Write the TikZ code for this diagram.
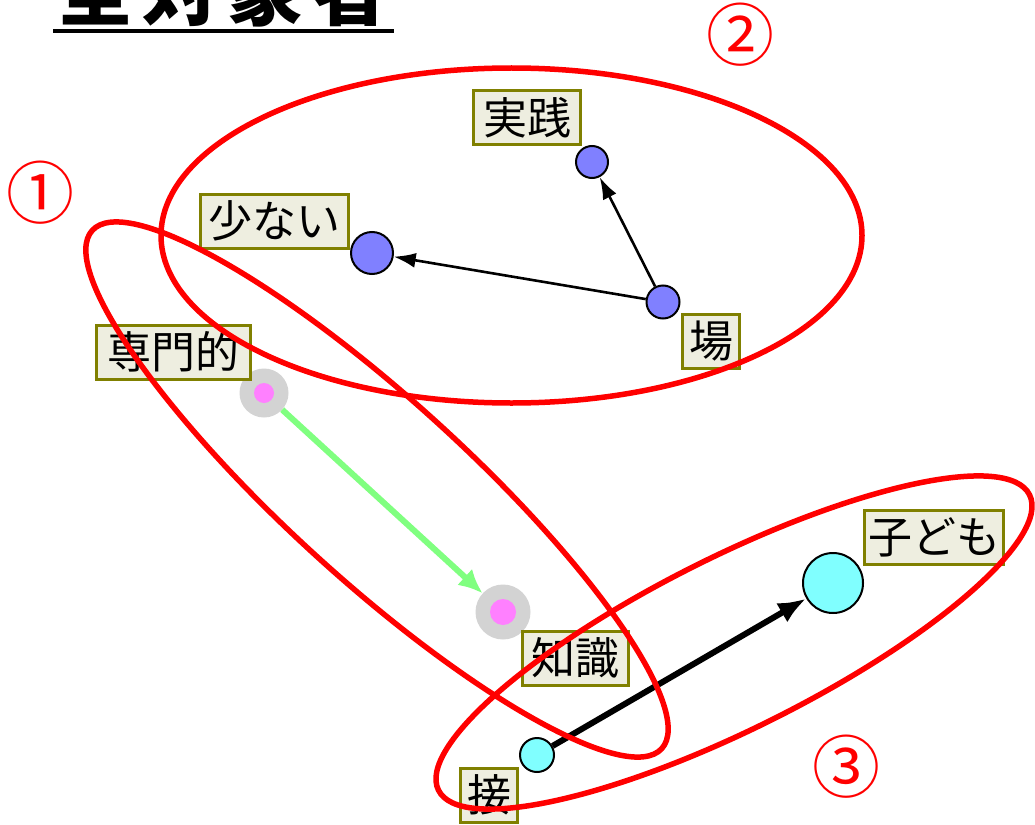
\documentclass[tikz,border=0pt]{standalone}
\usepackage{fontspec}
\setmainfont{Noto Sans CJK JP}
\usetikzlibrary{arrows.meta}
\definecolor{boxfill}{HTML}{EEEEE0}
\definecolor{boxline}{HTML}{808000}
\definecolor{blued}{HTML}{8080FF}
\definecolor{cyand}{HTML}{80FFFF}
\definecolor{pinkd}{HTML}{FF80FF}
\definecolor{haloc}{HTML}{D3D3D3}
\definecolor{greenl}{HTML}{80FF80}
\begin{document}
\begin{tikzpicture}[x=1pt,y=-1pt,
  lbl/.style={draw=boxline, line width=3pt, fill=boxfill, inner sep=0pt,
    minimum height=54pt, font=\fontsize{44}{44}\selectfont, text=black},
  dot/.style={circle, draw=black, line width=2pt, fill=#1, inner sep=0pt},
  halo/.style={circle, fill=haloc, inner sep=0pt},
  core/.style={circle, fill=pinkd, inner sep=0pt},
  grp/.style={draw=red, line width=5.5pt},
  num/.style={text=red, font=\fontsize{68}{68}\selectfont, inner sep=0pt},
  thinarrow/.style={draw=black, line width=2.6pt, -{Latex[length=22pt,width=15pt]}},
  thickarrow/.style={draw=black, line width=6pt, -{Latex[length=28pt,width=22pt]}},
  greenarrow/.style={draw=greenl, line width=6pt, -{Latex[length=24pt,width=22pt]}}
]
\useasboundingbox (0,0) rectangle (1035,824);
\clip (0,0) rectangle (1035,824);
\fill[white] (0,0) rectangle (1035,824);

% title
\node[anchor=base west, inner sep=0pt, font=\fontsize{76}{76}\selectfont\bfseries] (title) at (57,20)
  {全\hspace{9pt}対\hspace{9pt}象\hspace{9pt}者};
\draw[line width=4pt] ([xshift=-4pt,yshift=-11pt]title.base west) -- ([xshift=6pt,yshift=-11pt]title.base east);

% circled numbers
\node[num] (n1) at (40.5,193) {①};
\node[num] (n2) at (740.5,35) {②};
\node[num] (n3) at (846,767) {③};

% dots
\node[dot=blued, minimum size=32pt] (jd) at (592,162) {};
\node[dot=blued, minimum size=33pt] (bd) at (663,302) {};
\node[dot=blued, minimum size=42pt] (sd) at (372,253) {};
\node[dot=cyand, minimum size=60pt] (kd) at (833,583) {};
\node[dot=cyand, minimum size=34pt] (sed) at (537,755) {};
\node[halo, minimum size=49pt] (sh) at (264,393) {};
\node[core, minimum size=20pt] (sc) at (264,393) {};
\node[halo, minimum size=55pt] (ch) at (503,612) {};
\node[core, minimum size=26pt] (cc) at (503,612) {};

% connectors
\draw[thinarrow] (bd) -- (jd);
\draw[thinarrow] (bd) -- (sd);
\draw[thickarrow] (sed) -- (kd);
\draw[greenarrow] (sh) -- (ch);

% labels
\node[lbl, minimum width=107pt] (l1) at (527,117.5) {実践};
\node[lbl, minimum width=148pt] (l2) at (274.5,221) {少ない};
\node[lbl, minimum width=154pt] (l3) at (173.5,352) {専門的};
\node[lbl, minimum width=57pt] (l4) at (711,341.5) {場};
\node[lbl, minimum width=139pt] (l5) at (934,537.5) {子ども};
\node[lbl, minimum width=106pt] (l6) at (575.5,658) {知識};
\node[lbl, minimum width=57pt] (l7) at (489,795) {接};

% group ellipses
\draw[grp] (511.5,235.5) ellipse [x radius=350.5, y radius=167.5];
\draw[grp, rotate around={-42.3:(377,489.5)}] (377,489.5) ellipse [x radius=385, y radius=90];
\draw[grp, rotate around={26.56:(734,642.5)}] (734,642.5) ellipse [x radius=330.4, y radius=86];
\end{tikzpicture}
\end{document}
